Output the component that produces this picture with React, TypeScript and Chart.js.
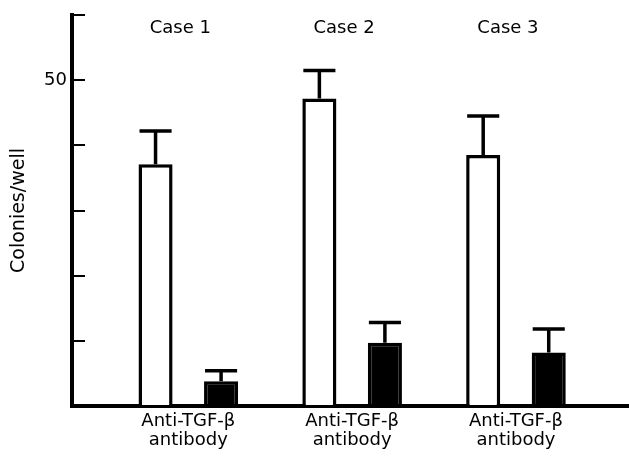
import React, { useEffect, useRef } from 'react';
import { Chart, registerables } from 'chart.js';

Chart.register(...registerables);

// ---- data ----
const cases = ['Case 1', 'Case 2', 'Case 3'];
const casePositions = [1, 2, 3];
const controlMeans = [37.1, 47.2, 38.5];
const controlErrors = [5.1, 4.3, 6.0];
const antibodyMeans = [3.8, 9.7, 8.2];
const antibodyErrors = [1.6, 3.1, 3.6];
const xTickLabel = ['Anti-TGF-β', 'antibody'];
const yLabeledTicks = [50];
const yTitle = 'Colonies/well';

const FONT = "'DejaVu Sans', sans-serif";

const errorBarPlugin = {
  id: 'errorBars',
  afterDatasetsDraw(chart: any) {
    const ctx = chart.ctx;
    const yScale = chart.scales.y;
    ctx.save();
    ctx.strokeStyle = '#000';
    ctx.lineWidth = 3.5;
    chart.data.datasets.forEach((ds: any, d: number) => {
      const meta = chart.getDatasetMeta(d);
      meta.data.forEach((bar: any, i: number) => {
        const mean = ds.data[i].y;
        const err = ds.errors[i];
        const top = yScale.getPixelForValue(mean + err);
        const half = bar.width / 2 - 1;
        ctx.beginPath();
        ctx.moveTo(bar.x, bar.y);
        ctx.lineTo(bar.x, top);
        ctx.moveTo(bar.x - half, top);
        ctx.lineTo(bar.x + half, top);
        ctx.stroke();
      });
    });
    ctx.restore();
  },
};

const caseLabelPlugin = {
  id: 'caseLabels',
  afterDraw(chart: any) {
    const ctx = chart.ctx;
    const xScale = chart.scales.x;
    ctx.save();
    ctx.fillStyle = '#000';
    ctx.font = `18px ${FONT}`;
    ctx.textAlign = 'center';
    ctx.textBaseline = 'alphabetic';
    cases.forEach((c, i) => {
      ctx.fillText(c, xScale.getPixelForValue(casePositions[i]) - 8, 33);
    });
    ctx.restore();
  },
};

export default function App() {
  const ref = useRef<HTMLCanvasElement>(null);
  useEffect(() => {
    if (!ref.current) return;
    const chart = new Chart(ref.current, {
      type: 'bar',
      data: {
        datasets: [
          {
            label: 'Control',
            data: controlMeans.map((v, i) => ({ x: casePositions[i], y: v })),
            errors: controlErrors,
            backgroundColor: '#fff',
            borderColor: '#000',
            borderWidth: 3.5,
            borderSkipped: 'start',
          } as any,
          {
            label: 'Anti-TGF-β antibody',
            data: antibodyMeans.map((v, i) => ({ x: casePositions[i], y: v })),
            errors: antibodyErrors,
            backgroundColor: '#000',
            borderColor: '#000',
            borderWidth: 3.5,
            borderSkipped: 'start',
          } as any,
        ],
      },
      options: {
        animation: false,
        responsive: false,
        devicePixelRatio: 1,
        categoryPercentage: 0.8,
        barPercentage: 0.52,
        layout: { padding: { top: 15, right: 0, left: 0, bottom: 0 } },
        plugins: { legend: { display: false }, tooltip: { enabled: false } },
        scales: {
          x: {
            type: 'linear',
            min: 0.29,
            max: 3.69,
            offset: false,
            afterBuildTicks: (scale: any) => {
              scale.ticks = casePositions.map((v) => ({ value: v }));
            },
            afterFit: (scale: any) => {
              scale.height = 51;
              scale.paddingLeft = 0;
              scale.paddingRight = 0;
            },
            grid: { display: false },
            border: { color: '#000', width: 4 },
            ticks: {
              includeBounds: false,
              autoSkip: false,
              maxRotation: 0,
              padding: -3,
              color: '#000',
              font: { family: FONT, size: 18, lineHeight: 1.1 },
              callback: () => xTickLabel,
            },
          },
          y: {
            min: 0,
            max: 60,
            afterFit: (scale: any) => {
              scale.width = 72;
              scale.paddingTop = 0;
              scale.paddingBottom = 0;
            },
            grid: {
              drawOnChartArea: false,
              color: '#000',
              lineWidth: 2,
              tickLength: -13,
            },
            border: { color: '#000', width: 4 },
            ticks: {
              stepSize: 10,
              padding: 18,
              color: '#000',
              font: { family: FONT, size: 18 },
              callback: (v: any) => (yLabeledTicks.includes(Number(v)) ? String(v) : ''),
            },
            title: {
              display: true,
              text: yTitle,
              color: '#000',
              font: { family: FONT, size: 19 },
              padding: { top: 8, bottom: 0 },
            },
          },
        },
      } as any,
      plugins: [errorBarPlugin, caseLabelPlugin],
    });
    return () => chart.destroy();
  }, []);
  return (
    <div style={{ position: 'absolute', left: 0, top: 0, width: 629, height: 457, background: '#fff' }}>
      <canvas ref={ref} width={629} height={457} />
    </div>
  );
}
